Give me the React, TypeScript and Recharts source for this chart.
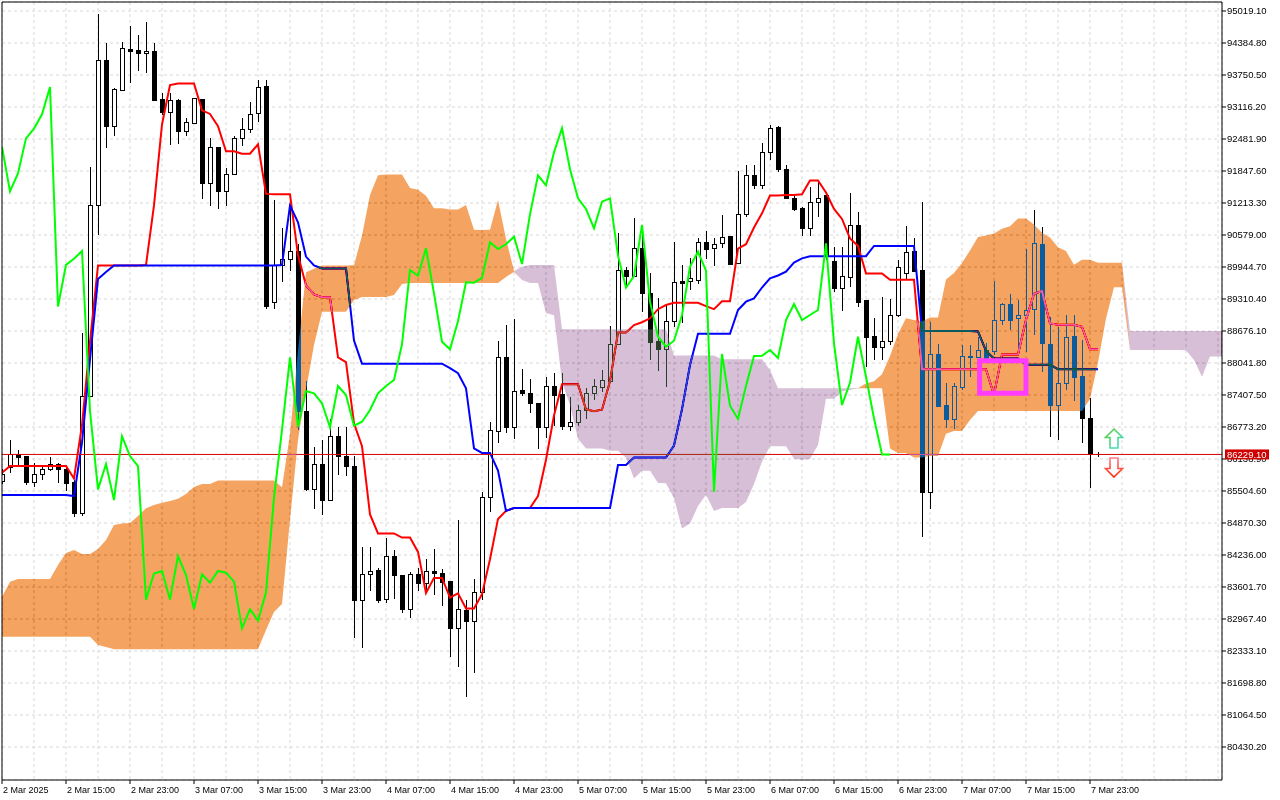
import {
    ComposedChart,
    Bar,
    Line,
    Area,
    XAxis,
    YAxis,
    CartesianGrid,
    ReferenceLine,
    ReferenceArea,
    ReferenceDot
} from 'recharts'

// BTCUSD H1, one entry per hourly bar (bar 0 = 2 Mar 07:00)
const opens = [
    85703, 85986, 86238, 86198, 85689, 85841, 85935, 86040, 85935, 85689,
    85062, 87387, 91167, 94048, 92745, 93453, 94266, 94246, 94181, 94226,
    93269, 93023, 93255, 92646, 92805, 93275, 91604, 92325, 91443, 91798,
    92494, 92688, 92997, 93532, 89243, 89986, 90099, 90262, 87090, 85552,
    86040, 85326, 86589, 86198, 86000, 83352, 83869, 83935, 83368, 84216,
    83839, 83160, 83853, 83687, 83919, 83873, 83720, 82783, 83146, 82934,
    83496, 85380, 86700, 88155, 86779, 87506, 87441, 87243, 86767, 87586,
    87427, 86799, 86878, 87110, 87441, 87560, 87691, 88412, 89885, 89772,
    90315, 89435, 88478, 88313, 88868, 89667, 89667, 89687, 90434, 90315,
    90414, 90559, 90018, 90989, 91762, 91564, 92218, 92714, 91881, 91306,
    91108, 90712, 91239, 91372, 90064, 89534, 89752, 90777, 89290, 88577,
    88365, 88484, 88993, 89832, 90262, 89885, 85490, 88214, 87209, 86932,
    87572, 88155, 88155, 88299, 88285, 88894, 89211, 88928, 88993, 89106,
    90395, 88418, 87209, 87651, 88577, 87784, 86945, 86229.1
]

const highs = [
    85941, 86515, 86317, 86198, 86065, 85986, 86172, 86065, 85954, 85722,
    88630, 91933, 94959, 94379, 93487, 94410, 94722, 94543, 94807, 94379,
    93388, 93388, 93269, 92892, 93289, 93275, 92510, 92325, 91903, 92543,
    92898, 93215, 93659, 93659, 91273, 90718, 91094, 90391, 87685, 86379,
    86523, 86932, 86767, 86767, 86198, 84404, 84404, 83978, 84565, 84339,
    83839, 83905, 83972, 84151, 84349, 83952, 83720, 84930, 83344, 83760,
    85490, 86878, 88478, 88795, 88908, 87917, 87724, 87243, 87758, 87837,
    87837, 87362, 87209, 87552, 87724, 87903, 88775, 90612, 89951, 90910,
    90777, 89820, 89324, 89191, 90440, 89984, 90123, 90525, 90658, 90513,
    90975, 90559, 91853, 91966, 91966, 92397, 92759, 92739, 91966, 91352,
    91140, 91536, 91669, 91372, 90335, 90335, 91417, 91041, 89290, 88928,
    89344, 89304, 90083, 90757, 90513, 91239, 88860, 88412, 87639, 87651,
    88398, 88398, 88563, 88432, 89673, 89237, 89409, 89290, 90295, 91074,
    90732, 88959, 88761, 88993, 88993, 88498, 87342, 86283
]

const lows = [
    85643, 85855, 86020, 85623, 85590, 85722, 85887, 85669, 85490, 84995,
    85009, 87374, 90579, 92297, 92541, 93439, 93598, 93836, 93796, 93241,
    92958, 92363, 92383, 92527, 92773, 91292, 91154, 91094, 91154, 91782,
    92349, 92607, 92835, 89128, 89112, 89639, 89857, 86702, 85497, 85148,
    85029, 85310, 85812, 85802, 82599, 82396, 83530, 83284, 83284, 83368,
    83086, 83001, 83508, 83508, 83443, 83211, 82220, 82022, 81427, 81903,
    83344, 85094, 86462, 86660, 86535, 87374, 87056, 86331, 86549, 86779,
    86714, 86680, 86793, 86945, 87308, 87473, 87671, 88398, 89554, 89752,
    89059, 88101, 87869, 87560, 88761, 88829, 89489, 89621, 90097, 89964,
    90315, 89984, 90018, 90942, 91485, 91485, 92066, 91828, 91287, 91061,
    90559, 90559, 90942, 90083, 89435, 89059, 89554, 89158, 87968, 88101,
    88101, 88398, 88959, 89687, 89851, 84599, 85148, 87175, 86747, 86747,
    87506, 87758, 88147, 88101, 88200, 88795, 88696, 88299, 88246, 88597,
    87863, 86581, 86529, 87506, 87294, 86450, 85558, 86184
]

const closes = [
    85841, 86238, 86184, 85689, 85841, 85935, 86040, 85935, 85669, 85062,
    87387, 91167, 94048, 92745, 93467, 94280, 94232, 94181, 94226, 93255,
    93023, 93255, 92646, 92813, 93289, 91604, 92325, 91443, 91798, 92494,
    92688, 92971, 93512, 89162, 89986, 90107, 90262, 87090, 85536, 86040,
    85326, 86589, 86198, 86000, 83352, 83869, 83919, 83352, 84216, 83839,
    83165, 83853, 83687, 83919, 83885, 83707, 82783, 83160, 82934, 83496,
    85380, 86714, 88155, 86779, 87487, 87441, 87243, 86767, 87586, 87407,
    86799, 86878, 87110, 87441, 87586, 87705, 88412, 89885, 89772, 90315,
    89423, 88464, 88313, 88868, 89641, 89633, 89727, 90434, 90301, 90395,
    90545, 90004, 90989, 91762, 91564, 92218, 92694, 91881, 91306, 91094,
    90712, 91239, 91306, 90169, 89534, 89766, 90777, 89257, 88563, 88365,
    88484, 88993, 89951, 90248, 89871, 85490, 88220, 87195, 86932, 87586,
    88180, 88186, 88299, 88141, 88894, 89211, 88894, 88993, 89092, 90414,
    88432, 87209, 87651, 88563, 87770, 86945, 86229.1, 86229.1
]

const lastPrice = 86229.1

// Ichimoku (9, 26, 52)
const tenkan = [
    85867, 86000, 86000, 86000, 86000, 86000, 86000, 86000, 86002, 85754,
    86813, 88464, 89976, 89976, 89976, 89976, 89976, 89976, 89984, 91166,
    92769, 93552, 93584, 93584, 93584, 93049, 92979, 92736, 92240, 92240,
    92190, 92190, 92377, 91394, 91386, 91386, 91386, 90180, 89578, 89403,
    89344, 89344, 88151, 88061, 86846, 86392, 85041, 84664, 84664, 84664,
    84581, 84581, 84297, 83481, 83782, 83782, 83391, 83475, 83177, 83177,
    83459, 84153, 84951, 85110, 85167, 85167, 85167, 85405, 86125, 87001,
    87619, 87619, 87619, 87124, 87084, 87116, 87680, 88646, 88646, 88795,
    88850, 88928, 89108, 89191, 89235, 89235, 89235, 89235, 89168, 89108,
    89267, 89267, 90307, 90397, 90728, 91009, 91362, 91362, 91372, 91372,
    91388, 91659, 91659, 91421, 91096, 90898, 90511, 90363, 89818, 89818,
    89818, 89693, 89693, 89693, 89693, 87919, 87919, 87919, 87919, 87919,
    87919, 87919, 87919, 87919, 87409, 88210, 88210, 88210, 88900, 89415,
    89469, 88827, 88801, 88801, 88801, 88761, 88315, 88315
]

const kijun = [
    85425, 85425, 85425, 85425, 85425, 85425, 85425, 85425, 85425, 85405,
    86462, 88113, 89707, 89845, 89976, 89976, 89976, 89976, 89976, 89976,
    89976, 89976, 89976, 89976, 89976, 89976, 89976, 89976, 89976, 89976,
    89976, 89976, 89976, 89976, 89976, 89984, 91166, 90831, 90151, 89976,
    89917, 89917, 89917, 89917, 88488, 88028, 88028, 88028, 88028, 88028,
    88028, 88028, 88028, 88028, 88028, 88028, 87939, 87839, 87542, 86349,
    86260, 86260, 85909, 85110, 85167, 85167, 85167, 85167, 85167, 85167,
    85167, 85167, 85167, 85167, 85167, 85167, 85167, 86020, 86020, 86168,
    86168, 86168, 86168, 86168, 86406, 87126, 88002, 88620, 88620, 88620,
    88620, 88620, 89092, 89257, 89322, 89538, 89719, 89776, 89851, 90034,
    90115, 90159, 90159, 90159, 90159, 90159, 90159, 90159, 90159, 90363,
    90363, 90363, 90363, 90363, 90363, 88678, 88678, 88678, 88678, 88678,
    88678, 88678, 88668, 88281, 88133, 88133, 88133, 88133, 88008, 88008,
    88008, 88008, 87919, 87919, 87919, 87919, 87919, 87919
]

// lagging span, drawn 26 bars back
const chikou = [
    92325, 91443, 91798, 92494, 92688, 92971, 93512, 89162, 89986, 90107,
    90262, 87090, 85536, 86040, 85326, 86589, 86198, 86000, 83352, 83869,
    83919, 83352, 84216, 83839, 83165, 83853, 83687, 83919, 83885, 83707,
    82783, 83160, 82934, 83496, 85380, 86714, 88155, 86779, 87487, 87441,
    87243, 86767, 87586, 87407, 86799, 86878, 87110, 87441, 87586, 87705,
    88412, 89885, 89772, 90315, 89423, 88464, 88313, 88868, 89641, 89633,
    89727, 90434, 90301, 90395, 90545, 90004, 90989, 91762, 91564, 92218,
    92694, 91881, 91306, 91094, 90712, 91239, 91306, 90169, 89534, 89766,
    90777, 89257, 88563, 88365, 88484, 88993, 89951, 90248, 89871, 85490,
    88220, 87195, 86932, 87586, 88180, 88186, 88299, 88141, 88894, 89211,
    88894, 88993, 89092, 90414, 88432, 87209, 87651, 88563, 87770, 86945,
    86229.1, 86229.1
]

// leading spans, drawn 26 bars ahead
const spanA = [
    83409, 83707, 83760, 83760, 83760, 83760, 83760, 84038, 84275, 84335,
    84256, 84256, 84355, 84533, 84830, 84860, 84870, 85009, 85162, 85227,
    85273, 85306, 85352, 85445, 85584, 85643, 85645, 85713, 85713, 85713,
    85713, 85713, 85713, 85713, 85713, 85580, 86636, 88287, 89841, 89911,
    89976, 89976, 89976, 89976, 89980, 90571, 91372, 91764, 91780, 91780,
    91780, 91512, 91477, 91356, 91108, 91108, 91082, 91082, 91176, 90684,
    90680, 90684, 91275, 90506, 89863, 89689, 89629, 89629, 89033, 88989,
    87667, 87209, 86533, 86345, 86345, 86345, 86303, 86303, 86163, 85754,
    85905, 85905, 85665, 85657, 85360, 84763, 84858, 85205, 85429, 85110,
    85167, 85167, 85167, 85286, 85645, 86083, 86392, 86392, 86392, 86145,
    86125, 86141, 86414, 87332, 87332, 87481, 87508, 87548, 87637, 87679,
    87820, 88180, 88618, 88928, 88894, 88864, 88944, 88944, 89699, 89826,
    90024, 90274, 90539, 90569, 90611, 90702, 90751, 90908, 90908, 90789,
    90626, 90527, 90335, 90260, 89988, 90089, 90089, 90028, 90028, 90028,
    90028, 88297, 88297, 88297, 88297, 88297, 88297, 88297, 88293, 88099,
    87770, 88170, 88170, 88170
]

const spanB = [
    82616, 82616, 82616, 82616, 82616, 82616, 82616, 82616, 82616, 82616,
    82616, 82616, 82452, 82412, 82367, 82367, 82367, 82367, 82367, 82367,
    82367, 82367, 82367, 82367, 82367, 82367, 82367, 82367, 82367, 82367,
    82367, 82367, 82367, 82749, 83106, 83264, 84930, 86515, 87506, 88398,
    89059, 89059, 89059, 89059, 89290, 89350, 89350, 89350, 89350, 89390,
    89608, 89627, 89627, 89627, 89627, 89627, 89627, 89627, 89627, 89627,
    89627, 89627, 89627, 89746, 89851, 89951, 89984, 89984, 89984, 89984,
    88716, 88710, 88710, 88710, 88710, 88710, 88710, 88710, 88710, 88710,
    88710, 88710, 88710, 88710, 88192, 88192, 88192, 88192, 88192, 88192,
    88117, 88117, 88117, 88117, 88117, 88117, 87903, 87542, 87542, 87542,
    87542, 87542, 87542, 87542, 87542, 87542, 87542, 87542, 87542, 87542,
    87542, 86349, 86260, 86260, 86168, 86168, 86200, 86200, 86640, 86696,
    86696, 86912, 87092, 87092, 87092, 87092, 87092, 87092, 87092, 87092,
    87092, 87092, 87092, 87092, 87092, 87092, 87330, 88052, 88926, 89544,
    89544, 88678, 88678, 88678, 88678, 88678, 88678, 88678, 88678, 88678,
    88678, 88678, 88678, 88678
]

const labelBars = [0, 8, 16, 24, 32, 40, 48, 56, 64, 72, 80, 88, 96, 104, 112, 120, 128, 136]
const timeLabels = [
    '2 Mar 2025', '2 Mar 15:00', '2 Mar 23:00', '3 Mar 07:00', '3 Mar 15:00', '3 Mar 23:00',
    '4 Mar 07:00', '4 Mar 15:00', '4 Mar 23:00', '5 Mar 07:00', '5 Mar 15:00', '5 Mar 23:00',
    '6 Mar 07:00', '6 Mar 15:00', '6 Mar 23:00', '7 Mar 07:00', '7 Mar 15:00', '7 Mar 23:00'
]
const gridBars = [
    4, 8, 12, 16, 20, 24, 28, 32, 36, 40, 44, 48, 52, 56, 60, 64, 68, 72, 76,
    80, 84, 88, 92, 96, 100, 104, 108, 112, 116, 120, 124, 128, 132, 136, 140, 144, 148, 152
]
const priceTicks = [
    95019.1, 94384.8, 93750.5, 93116.2, 92481.9, 91847.6, 91213.3, 90579.0,
    89944.7, 89310.4, 88676.1, 88041.8, 87407.5, 86773.2, 86138.9, 85504.6,
    84870.3, 84236.0, 83601.7, 82967.4, 82333.1, 81698.8, 81064.5, 80430.2
]

const X_MAX = 152.5
const Y_MIN = 79776
const Y_MAX = 95197.5

const rows = spanA.map((a, k) => ({
    k,
    open: opens[k] ?? null,
    high: highs[k] ?? null,
    low: lows[k] ?? null,
    close: closes[k] ?? null,
    tenkan: tenkan[k] ?? null,
    kijun: kijun[k] ?? null,
    chikou: chikou[k] ?? null,
    spanA: a,
    spanB: spanB[k]
}))

// MT5 fills the cloud in XOR mode, so it is drawn as a 'difference' layer
const cloudCss = `.cloud { mix-blend-mode: difference; }`

function Candle(props: any) {
    const { x, y, width, height, payload } = props
    if (!payload || payload.high == null) return null
    const { open, close, high, low } = payload
    const top = Math.min(y, y + height)
    const h = Math.abs(height)
    const span = high - low
    const py = (v: number) => (span > 0 ? top + ((high - v) / span) * h : top)
    const cx = Math.round(x + width / 2)
    const bTop = Math.round(py(Math.max(open, close)))
    const bBot = Math.round(py(Math.min(open, close)))
    const bh = Math.max(1, bBot - bTop + 1)
    const bull = close > open
    return (
        <g shapeRendering="crispEdges">
            <rect x={cx} y={Math.round(top)} width={1} height={Math.max(1, Math.round(h))} fill="#000" />
            <rect x={cx - 2} y={bTop} width={5} height={bh} fill="#000" />
            {bull && bh > 2 && <rect x={cx - 1} y={bTop + 1} width={3} height={bh - 2} fill="#fff" />}
        </g>
    )
}

function TimeTick(props: any) {
    const { x, y, payload } = props
    const i = labelBars.indexOf(payload.value)
    return (
        <text x={x + 1} y={y} dy="0.71em" textAnchor="start" fontSize={9} fill="#000">
            {timeLabels[i]}
        </text>
    )
}

function PriceTick(props: any) {
    const { x, y, payload } = props
    return (
        <text x={x} y={y} dy="0.35em" textAnchor="start" fontSize={9.5} fill="#000">
            {Number(payload.value).toFixed(2)}
        </text>
    )
}

function UpArrow(props: any) {
    const { cx, cy } = props
    return (
        <g>
            <defs>
                <linearGradient id="upArrowGrad" x1="0" y1="0" x2="1" y2="1">
                    <stop offset="0" stopColor="#5CCB2E" />
                    <stop offset="1" stopColor="#3FE0D8" />
                </linearGradient>
            </defs>
            <path
                d={`M ${cx} ${cy - 9.5} L ${cx + 8.5} ${cy - 1} L ${cx + 4} ${cy - 1} L ${cx + 4} ${cy + 9.5} L ${cx - 4} ${cy + 9.5} L ${cx - 4} ${cy - 1} L ${cx - 8.5} ${cy - 1} Z`}
                fill="#fff"
                stroke="url(#upArrowGrad)"
                strokeWidth={1.6}
            />
        </g>
    )
}

function DownArrow(props: any) {
    const { cx, cy } = props
    return (
        <g>
            <defs>
                <linearGradient id="downArrowGrad" x1="0" y1="0" x2="0" y2="1">
                    <stop offset="0" stopColor="#FF7A8A" />
                    <stop offset="1" stopColor="#FF2A00" />
                </linearGradient>
            </defs>
            <path
                d={`M ${cx} ${cy + 9.5} L ${cx + 8.5} ${cy + 1} L ${cx + 4} ${cy + 1} L ${cx + 4} ${cy - 9.5} L ${cx - 4} ${cy - 9.5} L ${cx - 4} ${cy + 1} L ${cx - 8.5} ${cy + 1} Z`}
                fill="#fff"
                stroke="url(#downArrowGrad)"
                strokeWidth={1.6}
            />
        </g>
    )
}

function PriceTag(props: any) {
    const { cx, cy } = props
    return (
        <g>
            <rect x={cx + 3} y={cy - 5} width={44} height={10} fill="#D00000" />
            <text x={cx + 5} y={cy} dy="0.35em" fontSize={9.5} fill="#fff">
                {lastPrice.toFixed(2)}
            </text>
        </g>
    )
}

export default function App() {
    return (
        <div
            style={{
                position: 'absolute',
                left: 0,
                top: 0,
                width: 1280,
                height: 800,
                background: '#fff',
                fontFamily: '"Liberation Sans", Arial, sans-serif'
            }}
        >
            <style>{cloudCss}</style>
            <ComposedChart width={1280} height={800} data={rows} margin={{ top: 2, right: 0, bottom: 0, left: 2 }}>
                <CartesianGrid
                    xAxisId="grid"
                    stroke="#D9D9D9"
                    strokeDasharray="3 3"
                    fill="#fff"
                    zIndex={-100}
                />
                <XAxis
                    xAxisId="grid"
                    type="number"
                    dataKey="k"
                    domain={[0, X_MAX]}
                    ticks={gridBars}
                    allowDataOverflow
                    hide
                />
                <XAxis
                    type="number"
                    dataKey="k"
                    domain={[0, X_MAX]}
                    ticks={labelBars}
                    interval={0}
                    allowDataOverflow
                    height={20}
                    tickSize={4}
                    tickMargin={3}
                    tick={<TimeTick />}
                    axisLine={{ stroke: '#000' }}
                    tickLine={{ stroke: '#000' }}
                />
                <YAxis
                    orientation="right"
                    type="number"
                    domain={[Y_MIN, Y_MAX]}
                    ticks={priceTicks}
                    interval={0}
                    width={58}
                    tickSize={4}
                    tickMargin={1}
                    tick={<PriceTick />}
                    axisLine={{ stroke: '#000' }}
                    tickLine={{ stroke: '#000' }}
                />
                <Bar
                    dataKey={(d: any) => (d.high == null ? null : [d.low, d.high])}
                    barSize={6}
                    shape={<Candle />}
                    isAnimationActive={false}
                    zIndex={300}
                />
                <Line
                    dataKey="tenkan"
                    stroke="#FF0000"
                    strokeWidth={2}
                    dot={false}
                    activeDot={false}
                    isAnimationActive={false}
                    zIndex={400}
                />
                <Line
                    dataKey="kijun"
                    stroke="#0000FF"
                    strokeWidth={2}
                    dot={false}
                    activeDot={false}
                    isAnimationActive={false}
                    zIndex={400}
                />
                <ReferenceLine y={lastPrice} stroke="#D40000" strokeWidth={1} zIndex={450} />
                <Area
                    className="cloud"
                    dataKey={(d: any) => (d.spanA >= d.spanB ? [d.spanB, d.spanA] : [d.spanA, d.spanA])}
                    fill="#0B5B9F"
                    fillOpacity={1}
                    stroke="none"
                    dot={false}
                    activeDot={false}
                    isAnimationActive={false}
                    zIndex={600}
                />
                <Area
                    className="cloud"
                    dataKey={(d: any) => (d.spanB > d.spanA ? [d.spanA, d.spanB] : [d.spanA, d.spanA])}
                    fill="#274027"
                    fillOpacity={1}
                    stroke="none"
                    dot={false}
                    activeDot={false}
                    isAnimationActive={false}
                    zIndex={601}
                />
                <Line
                    dataKey="chikou"
                    stroke="#00FF00"
                    strokeWidth={2}
                    dot={false}
                    activeDot={false}
                    isAnimationActive={false}
                    zIndex={700}
                />
                <ReferenceArea
                    x1={122.2}
                    x2={128}
                    y1={87443}
                    y2={88085}
                    fill="none"
                    fillOpacity={0}
                    stroke="#FF3CFF"
                    strokeWidth={5}
                    ifOverflow="visible"
                    zIndex={800}
                />
                <ReferenceDot x={139} y={86545} r={9} shape={<UpArrow />} ifOverflow="visible" zIndex={900} />
                <ReferenceDot x={139} y={85970} r={9} shape={<DownArrow />} ifOverflow="visible" zIndex={900} />
                <ReferenceLine x={0} stroke="#000" zIndex={1100} />
                <ReferenceLine y={Y_MAX} stroke="#000" zIndex={1100} />
                <ReferenceDot x={X_MAX} y={lastPrice} r={5} shape={<PriceTag />} ifOverflow="visible" zIndex={3000} />
            </ComposedChart>
        </div>
    )
}
